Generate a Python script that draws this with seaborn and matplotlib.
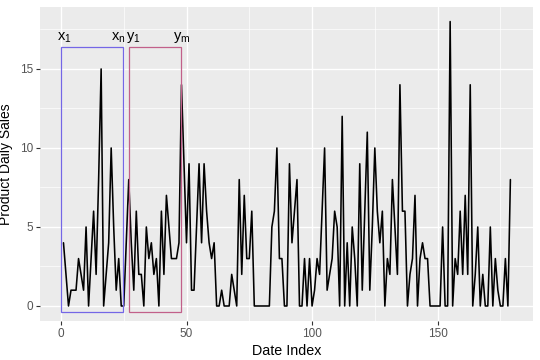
import numpy as np
import pandas as pd
import matplotlib
matplotlib.use("Agg")
import matplotlib.pyplot as plt
import seaborn as sns
from matplotlib.patches import Rectangle
from matplotlib.ticker import FixedLocator

# ---- data ----
sales = [4, 2, 0, 1, 1, 1, 3, 2, 1, 5,
         0, 3, 6, 2, 8, 15, 0, 2, 4, 10,
         5, 1, 3, 0, 0, 4, 8, 4, 1, 6,
         2, 2, 0, 5, 3, 4, 2, 3, 0, 6,
         2, 7, 5, 3, 3, 3, 4, 14, 9, 4,
         9, 1, 1, 5, 9, 4, 9, 6, 4, 3,
         4, 0, 0, 1, 0, 0, 0, 2, 1, 0,
         8, 2, 7, 3, 3, 6, 0, 0, 0, 0,
         0, 0, 0, 5, 6, 10, 3, 3, 0, 0,
         9, 4, 6, 8, 0, 0, 3, 0, 3, 0,
         1, 3, 2, 6, 10, 1, 2, 3, 6, 5,
         0, 12, 0, 4, 0, 5, 3, 0, 9, 1,
         6, 11, 1, 5, 10, 6, 4, 6, 0, 3,
         2, 8, 5, 2, 14, 6, 6, 0, 2, 3,
         7, 0, 3, 4, 3, 3, 0, 0, 0, 0,
         0, 5, 0, 0, 18, 0, 3, 2, 6, 2,
         7, 2, 14, 0, 2, 5, 0, 2, 0, 0,
         5, 0, 3, 1, 0, 0, 3, 0, 8]
date_index = list(range(1, len(sales) + 1))

box_x_ranges = [(0.0, 24.7), (27.2, 47.8)]
box_y_range = (-0.4, 16.4)
box_colors = ["#7466E6", "#C2608A"]
text_labels = [r"$\mathregular{x_1}$", r"$\mathregular{x_n}$",
               r"$\mathregular{y_1}$", r"$\mathregular{y_m}$"]
text_x = [1.2, 22.8, 29.0, 48.2]
text_y = 17.0

x_ticks = [0, 50, 100, 150]
y_ticks = [0, 5, 10, 15]

df = pd.DataFrame({"Date Index": date_index, "Product Daily Sales": sales})

sns.set_theme(style="darkgrid")
plt.rcParams["font.family"] = ["Liberation Sans", "DejaVu Sans"]
plt.rcParams["mathtext.fontset"] = "custom"
plt.rcParams["mathtext.rm"] = "Liberation Sans"

W, H = 540, 360
fig = plt.figure(figsize=(W / 100, H / 100), dpi=100)
left, right, top, bottom = 40, 533, 7, 321
ax = fig.add_axes([left / W, 1 - bottom / H, (right - left) / W, (bottom - top) / H])
ax.set_facecolor("#EBEBEB")

sns.lineplot(data=df, x="Date Index", y="Product Daily Sales", ax=ax,
             color="black", linewidth=1.15)

for (x0, x1), c in zip(box_x_ranges, box_colors):
    ax.add_patch(Rectangle((x0, box_y_range[0]), x1 - x0, box_y_range[1] - box_y_range[0],
                           fill=False, edgecolor=c, linewidth=0.9, zorder=3))

for lab, xx in zip(text_labels, text_x):
    ax.text(xx, text_y, lab, ha="center", va="center", fontsize=10.5, color="black")

ax.set_xlim(-8.35, 188.0)
ax.set_ylim(-0.95, 18.92)
ax.xaxis.set_major_locator(FixedLocator(x_ticks))
ax.yaxis.set_major_locator(FixedLocator(y_ticks))
ax.xaxis.set_minor_locator(FixedLocator([25, 75, 125, 175]))
ax.yaxis.set_minor_locator(FixedLocator([2.5, 7.5, 12.5, 17.5]))
ax.grid(which="major", color="white", linewidth=1.0)
ax.grid(which="minor", color="white", linewidth=0.5)
ax.set_axisbelow(True)
for s in ax.spines.values():
    s.set_visible(False)
ax.tick_params(axis="both", which="major", length=3, width=0.8, color="#333333",
               labelsize=8.5, labelcolor="#555555", pad=2, bottom=True, left=True)
ax.tick_params(axis="both", which="minor", length=0)
ax.set_xlabel("Date Index", fontsize=10.3, color="black", labelpad=3)
ax.set_ylabel("Product Daily Sales", fontsize=10, color="black", labelpad=5)

fig.savefig("out.png", dpi=100)
